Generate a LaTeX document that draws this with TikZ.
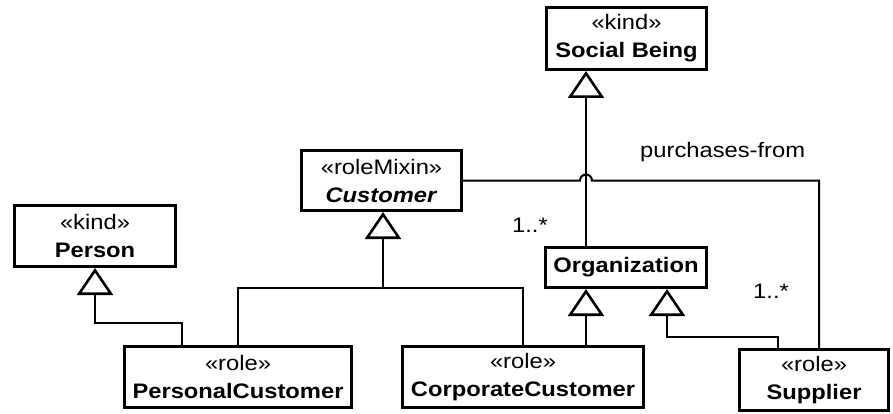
\documentclass[tikz,border=0pt]{standalone}
\usepackage{fontspec}
\usepackage{graphicx}
\setmainfont{Liberation Sans}
\usetikzlibrary{arrows.meta}
% slightly widened lettering
\newcommand\hstretch[1]{\scalebox{1.13}[1]{#1}}
\begin{document}
\begin{tikzpicture}[x=1pt,y=-1pt,
  umlbox/.style={draw,line width=3pt,rectangle,align=center,inner sep=0pt,
    font=\fontsize{21}{28}\selectfont},
  conn/.style={line width=2pt},
  gen/.style={line width=2pt,-{Triangle[open,length=27pt,width=36pt,line width=2.6pt]}},
  lbl/.style={font=\fontsize{21}{25}\selectfont,inner sep=0pt,anchor=base west}]
\useasboundingbox (0,0) rectangle (893,414);

% classes
\node[umlbox,minimum width=160pt,minimum height=62pt] (SB) at (626.5,38.5)
  {\hstretch{«kind»}\\\hstretch{\textbf{Social Being}}};
\node[umlbox,minimum width=160pt,minimum height=60pt] (Cust) at (381.5,180.5)
  {\hstretch{«roleMixin»}\\\hstretch{\textbf{\textit{Customer}}}};
\node[umlbox,minimum width=161pt,minimum height=61pt] (Person) at (95,236)
  {\hstretch{«kind»}\\\hstretch{\textbf{Person}}};
\node[umlbox,minimum width=161pt,minimum height=40pt] (Org) at (626,267.5)
  {\hstretch{\textbf{Organization}}};
\node[umlbox,minimum width=227pt,minimum height=61pt] (PC) at (238,377)
  {\hstretch{«role»}\\\hstretch{\textbf{PersonalCustomer}}};
\node[umlbox,minimum width=241pt,minimum height=61pt] (CC) at (523,377)
  {\hstretch{«role»}\\\hstretch{\textbf{CorporateCustomer}}};
\node[umlbox,minimum width=149pt,minimum height=61pt] (Sup) at (814,380)
  {\hstretch{«role»}\\\hstretch{\textbf{Supplier}}};

% routing points
\coordinate (xs) at (586,0);
\coordinate (h1) at (580,0);
\coordinate (ac) at (819,0);
\coordinate (cj) at (383,288);
\coordinate (pj) at (182,323);
\coordinate (sj) at (778,337);
\coordinate (og) at (667,0);

% generalizations
\draw[gen] (Org.north -| xs) -- (SB.south -| xs);
\draw[conn] (PC.north) |- (cj) -| (CC.north);
\draw[gen] (cj) -- (Cust.south -| cj);
\draw[gen] (PC.north -| pj) -- (pj) -| (Person.south);
\draw[gen] (CC.north -| xs) -- (Org.south -| xs);
\draw[gen] (Sup.north -| sj) -- (sj) -| (Org.south -| og);

% association with a hop over the vertical line
\draw[conn] (Cust.east) -- (Cust.east -| h1)
  arc[start angle=180,end angle=0,radius=6pt]
  -- (Cust.east -| ac) -- (Sup.north -| ac);

% labels
\node[lbl] (assoc) at (640,158) {\hstretch{purchases-from}};
\node[lbl] (m1) at (512,232) {\hstretch{1..*}};
\node[lbl] (m2) at (753,298) {\hstretch{1..*}};
\end{tikzpicture}
\end{document}
